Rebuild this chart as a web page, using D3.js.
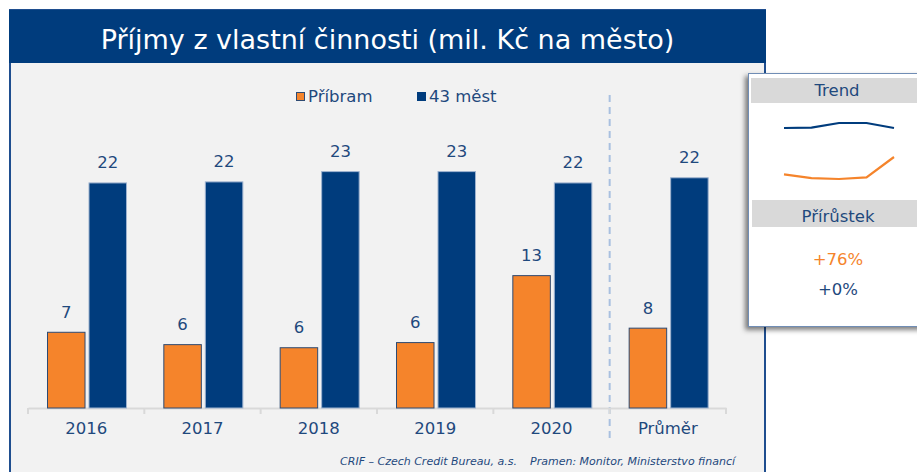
<!DOCTYPE html>
<html>
<head>
<meta charset="utf-8">
<style>
  body { margin: 0; background: #ffffff; }
  svg text { font-family: "DejaVu Sans", Verdana, sans-serif; }
</style>
</head>
<body>
<script src="https://d3js.org/d3.v7.min.js"></script>
<script>

// data
var categories = ["2016", "2017", "2018", "2019", "2020", "Průměr"];
var seriesNames = ["Příbram", "43 měst"];
var pribram = [7.4, 6.2, 5.9, 6.4, 12.9, 7.8];
var mest43 = [21.9, 22.0, 23.0, 23.0, 21.9, 22.4];
var growthLabels = ["+76%", "+0%"];

var orange = "#f5842b",
    navy = "#003c7d",
    textBlue = "#1f497d";

var W = 917, H = 472;

var svg = d3.select("body").append("svg")
    .attr("width", W)
    .attr("height", H);

var defs = svg.append("defs");
var shadow = defs.append("filter").attr("id", "shadow")
    .attr("x", "-20%").attr("y", "-20%").attr("width", "140%").attr("height", "140%");
shadow.append("feDropShadow")
    .attr("dx", -3).attr("dy", 3).attr("stdDeviation", 2.5)
    .attr("flood-color", "#000").attr("flood-opacity", 0.5);

// frame
svg.append("rect")
    .attr("x", 10).attr("y", 10)
    .attr("width", 755).attr("height", 480)
    .attr("fill", "#f2f2f2")
    .attr("stroke", "#1f4e8f")
    .attr("stroke-width", 2);

svg.append("rect")
    .attr("x", 9).attr("y", 10)
    .attr("width", 757).attr("height", 53)
    .attr("fill", navy);

var title = svg.append("text")
    .attr("x", 387.5).attr("y", 49)
    .attr("text-anchor", "middle")
    .attr("fill", "#ffffff")
    .style("font-size", "27px")
    .text("Příjmy z vlastní činnosti (mil. Kč na město)");
var tw = title.node().getComputedTextLength();
title.style("font-size", (27 * 574 / tw) + "px");

// scales
var baseline = 408;
var x0 = d3.scaleBand()
    .domain(categories)
    .range([28, 726]);

var x1 = d3.scaleBand()
    .domain(seriesNames)
    .range([19, 99])
    .paddingInner(0.072);

var y = d3.scaleLinear()
    .domain([0, 25])
    .range([baseline, baseline - 257.5]);

var color = d3.scaleOrdinal().domain(seriesNames).range([orange, navy]);
var strokeCol = d3.scaleOrdinal().domain(seriesNames).range(["#2e4a72", "#9db2cf"]);

var rows = categories.map(function(c, i) {
  return { cat: c, values: [
    { name: seriesNames[0], v: pribram[i] },
    { name: seriesNames[1], v: mest43[i] }
  ]};
});

// separator between years and average
svg.append("line")
    .attr("x1", x0("Průměr")).attr("x2", x0("Průměr"))
    .attr("y1", 95).attr("y2", 440)
    .attr("stroke", "#a9c0e0")
    .attr("stroke-width", 2)
    .attr("stroke-dasharray", "7,5");

// axis
var xAxis = d3.axisBottom(x0).tickSize(0).tickPadding(14);
var gx = svg.append("g")
    .attr("transform", "translate(0," + baseline + ")")
    .call(xAxis);
gx.select(".domain").attr("stroke", "#d9d9d9").attr("stroke-width", 2);
gx.selectAll(".tick text")
    .attr("fill", textBlue)
    .style("font-size", "16.5px")
    .style("font-family", "DejaVu Sans, Verdana, sans-serif");

var bounds = categories.map(function(c) { return x0(c); }).concat([x0.range()[1]]);
gx.selectAll(".bound")
    .data(bounds)
  .enter().append("line")
    .attr("class", "bound")
    .attr("x1", function(d) { return d; })
    .attr("x2", function(d) { return d; })
    .attr("y1", 0).attr("y2", 6)
    .attr("stroke", "#d9d9d9")
    .attr("stroke-width", 2);

// bars
var group = svg.selectAll(".grp")
    .data(rows)
  .enter().append("g")
    .attr("class", "grp")
    .attr("transform", function(d) { return "translate(" + x0(d.cat) + ",0)"; });

group.selectAll("rect")
    .data(function(d) { return d.values; })
  .enter().append("rect")
    .attr("x", function(d) { return x1(d.name) + 0.5; })
    .attr("y", function(d) { return y(d.v) + 0.5; })
    .attr("width", x1.bandwidth() - 1)
    .attr("height", function(d) { return baseline - y(d.v) - 0.5; })
    .attr("fill", function(d) { return color(d.name); })
    .attr("stroke", function(d) { return strokeCol(d.name); })
    .attr("stroke-width", 1);

group.selectAll(".val")
    .data(function(d) { return d.values; })
  .enter().append("text")
    .attr("class", "val")
    .attr("x", function(d) { return x1(d.name) + x1.bandwidth() / 2; })
    .attr("y", function(d) { return y(d.v) - 14; })
    .attr("text-anchor", "middle")
    .attr("fill", textBlue)
    .style("font-size", "16.5px")
    .text(function(d) { return Math.round(d.v); });

// legend
var legend = svg.selectAll(".legend")
    .data(seriesNames)
  .enter().append("g")
    .attr("class", "legend")
    .attr("transform", function(d, i) { return "translate(" + (296 + i * 121) + ",92)"; });

legend.append("rect")
    .attr("x", 0.5).attr("y", 0.5)
    .attr("width", 8).attr("height", 8)
    .attr("fill", function(d) { return color(d); })
    .attr("stroke", function(d, i) { return i === 0 ? "#2e4a72" : navy; });

legend.append("text")
    .attr("x", 12).attr("y", 9.5)
    .attr("fill", textBlue)
    .style("font-size", "16.5px")
    .text(function(d) { return d; });

// footer
svg.append("text")
    .attr("x", 517).attr("y", 465)
    .attr("text-anchor", "end")
    .attr("fill", textBlue)
    .style("font-size", "11px")
    .style("font-style", "italic")
    .text("CRIF – Czech Credit Bureau, a.s.");
svg.append("text")
    .attr("x", 735).attr("y", 465)
    .attr("text-anchor", "end")
    .attr("fill", textBlue)
    .style("font-size", "11px")
    .style("font-style", "italic")
    .text("Pramen: Monitor, Ministerstvo financí");

// trend panel
var panel = svg.append("g");
panel.append("rect")
    .attr("x", 748.5).attr("y", 73.5)
    .attr("width", 180).attr("height", 253)
    .attr("fill", "#ffffff")
    .attr("stroke", "#6f8db5")
    .attr("stroke-width", 1)
    .attr("filter", "url(#shadow)");

panel.append("rect")
    .attr("x", 751).attr("y", 78)
    .attr("width", 170).attr("height", 25)
    .attr("fill", "#d9d9d9");
panel.append("rect")
    .attr("x", 752).attr("y", 200)
    .attr("width", 170).attr("height", 27)
    .attr("fill", "#d9d9d9");

panel.append("text")
    .attr("x", 837).attr("y", 96)
    .attr("text-anchor", "middle")
    .attr("fill", textBlue)
    .style("font-size", "16.5px")
    .text("Trend");
panel.append("text")
    .attr("x", 838).attr("y", 222)
    .attr("text-anchor", "middle")
    .attr("fill", textBlue)
    .style("font-size", "16.5px")
    .text("Přírůstek");

var years = categories.slice(0, 5);
var xs = d3.scalePoint().domain(years).range([784, 894]);

var ysBlue = d3.scaleLinear().domain(d3.extent(mest43.slice(0, 5))).range([128, 123]);
var ysOrange = d3.scaleLinear().domain(d3.extent(pribram.slice(0, 5))).range([179, 157]);

var lineBlue = d3.line()
    .x(function(d, i) { return xs(years[i]); })
    .y(function(d) { return ysBlue(d); });
var lineOrange = d3.line()
    .x(function(d, i) { return xs(years[i]); })
    .y(function(d) { return ysOrange(d); });

panel.append("path")
    .attr("d", lineBlue(mest43.slice(0, 5)))
    .attr("fill", "none")
    .attr("stroke", navy)
    .attr("stroke-width", 2.2);
panel.append("path")
    .attr("d", lineOrange(pribram.slice(0, 5)))
    .attr("fill", "none")
    .attr("stroke", orange)
    .attr("stroke-width", 2.2);

panel.selectAll(".growth")
    .data(growthLabels)
  .enter().append("text")
    .attr("class", "growth")
    .attr("x", 838)
    .attr("y", function(d, i) { return 265 + i * 30; })
    .attr("text-anchor", "middle")
    .attr("fill", function(d, i) { return i === 0 ? orange : textBlue; })
    .style("font-size", "16.5px")
    .text(function(d) { return d; });

</script>
</body>
</html>
